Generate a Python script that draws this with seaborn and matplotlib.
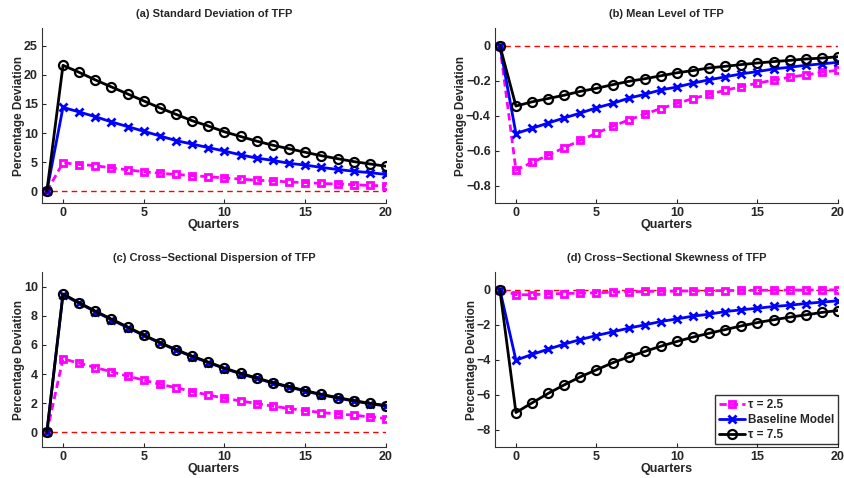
import numpy as np
import pandas as pd
import matplotlib
matplotlib.use("Agg")
import matplotlib.pyplot as plt
import seaborn as sns

quarters = list(range(-1, 21))

# (a) Standard deviation of TFP
sd_tau25 = [0, 4.9, 4.6, 4.4, 4.0, 3.7, 3.35, 3.1, 2.9, 2.7, 2.5, 2.3, 2.1, 1.9, 1.8, 1.6, 1.5, 1.35, 1.25, 1.15, 1.0, 0.95]
sd_base = [0, 14.4, 13.6, 12.8, 11.9, 11.1, 10.3, 9.5, 8.7, 8.1, 7.5, 6.9, 6.25, 5.7, 5.3, 4.8, 4.5, 4.1, 3.75, 3.45, 3.2, 2.9]
sd_tau75 = [0, 21.6, 20.4, 19.1, 17.9, 16.7, 15.5, 14.3, 13.2, 12.1, 11.2, 10.2, 9.4, 8.6, 7.9, 7.3, 6.7, 6.1, 5.6, 5.1, 4.7, 4.3]

# (b) Mean level of TFP
mean_tau25 = [0, -0.712, -0.668, -0.627, -0.584, -0.542, -0.501, -0.461, -0.426, -0.392, -0.360, -0.331, -0.303,
              -0.279, -0.256, -0.235, -0.215, -0.198, -0.181, -0.168, -0.153, -0.141]
mean_base = [0, -0.503, -0.473, -0.443, -0.414, -0.386, -0.356, -0.331, -0.301, -0.279, -0.254, -0.237, -0.215,
             -0.196, -0.179, -0.162, -0.149, -0.134, -0.124, -0.113, -0.105, -0.096]
mean_tau75 = [0, -0.346, -0.322, -0.303, -0.284, -0.262, -0.245, -0.224, -0.205, -0.190, -0.173, -0.156, -0.143,
              -0.128, -0.119, -0.109, -0.100, -0.092, -0.085, -0.077, -0.072, -0.064]

# (c) Cross-sectional dispersion of TFP
disp_tau25 = [0, 5.05, 4.75, 4.45, 4.16, 3.86, 3.59, 3.3, 3.07, 2.8, 2.57, 2.34, 2.16, 1.98, 1.8, 1.64, 1.5,
              1.36, 1.27, 1.18, 1.07, 0.95]
disp_base = [0, 9.45, 8.85, 8.28, 7.73, 7.19, 6.65, 6.13, 5.65, 5.2, 4.79, 4.38, 4.02, 3.7, 3.38, 3.11, 2.83,
             2.58, 2.36, 2.15, 1.97, 1.81]
disp_tau75 = [0, 9.5, 8.89, 8.32, 7.77, 7.23, 6.68, 6.16, 5.68, 5.23, 4.82, 4.41, 4.05, 3.73, 3.41, 3.14, 2.86,
              2.61, 2.39, 2.18, 2.0, 1.84]

# (d) Cross-sectional skewness of TFP
skew_tau25 = [0, -0.3, -0.3, -0.25, -0.23, -0.21, -0.19, -0.15, -0.13, -0.11, -0.1, -0.09, -0.08, -0.07, -0.06,
              -0.05, -0.04, -0.04, -0.03, -0.03, -0.02, -0.02]
skew_base = [0, -4.04, -3.71, -3.41, -3.12, -2.86, -2.63, -2.42, -2.21, -2.02, -1.83, -1.68, -1.52, -1.41, -1.26,
             -1.16, -1.07, -0.97, -0.9, -0.8, -0.72, -0.65]
skew_tau75 = [0, -7.03, -6.48, -5.94, -5.45, -4.99, -4.59, -4.19, -3.85, -3.54, -3.24, -2.97, -2.72, -2.5, -2.29,
              -2.08, -1.89, -1.73, -1.58, -1.45, -1.31, -1.2]

titles = ["(a) Standard Deviation of TFP", "(b) Mean Level of TFP",
          "(c) Cross\u2212Sectional Dispersion of TFP", "(d) Cross\u2212Sectional Skewness of TFP"]
series_labels = ["\u03c4 = 2.5", "Baseline Model", "\u03c4 = 7.5"]
panels = [
    (sd_tau25, sd_base, sd_tau75),
    (mean_tau25, mean_base, mean_tau75),
    (disp_tau25, disp_base, disp_tau75),
    (skew_tau25, skew_base, skew_tau75),
]
ylims = [(-2, 28), (-0.9, 0.1), (-1, 11), (-9, 1)]
yticks = [[0, 5, 10, 15, 20, 25], [-0.8, -0.6, -0.4, -0.2, 0], [0, 2, 4, 6, 8, 10], [-8, -6, -4, -2, 0]]

sns.set_style("white")
plt.rcParams["font.family"] = ["Liberation Sans", "DejaVu Sans"]
plt.rcParams["font.weight"] = "bold"
plt.rcParams["axes.labelweight"] = "bold"
plt.rcParams["axes.titleweight"] = "bold"

palette = dict(zip(series_labels, ["#ff00ff", "#0000ff", "black"]))
markers = dict(zip(series_labels, ["s", "X", "o"]))
dashes = dict(zip(series_labels, [(2.6, 1.5), "", ""]))
marker_sizes = dict(zip(series_labels, [5, 6, 6.5]))
marker_edge = dict(zip(series_labels, [2.0, 2.0, 1.6]))

fig = plt.figure(figsize=(8.45, 4.78), dpi=100)
W, H = 845, 478
boxes = [(42, 28, 386, 203), (495, 28, 838, 203), (42, 272, 386, 447), (495, 272, 838, 447)]


def style_line(line, name):
    c = palette[name]
    line.set_linewidth(2)
    line.set_markersize(marker_sizes[name])
    line.set_markeredgewidth(marker_edge[name])
    line.set_markeredgecolor(c)
    if name == "Baseline Model":
        line.set_marker("x")
    else:
        line.set_markerfacecolor("none")


for i, (vals, box) in enumerate(zip(panels, boxes)):
    l, t, r, b = box
    ax = fig.add_axes([l / W, 1 - b / H, (r - l) / W, (b - t) / H])
    ax.axhline(0, color="red", linestyle="--", linewidth=1, dashes=(4, 3), zorder=1)
    df = pd.DataFrame({
        "Quarters": quarters * 3,
        "value": list(vals[0]) + list(vals[1]) + list(vals[2]),
        "series": [n for n in series_labels for _ in quarters],
    })
    sns.lineplot(data=df, x="Quarters", y="value", hue="series", style="series",
                 hue_order=series_labels, style_order=series_labels,
                 palette=palette, markers=markers, dashes=dashes, ax=ax)
    for ln, name in zip(ax.lines[1:4], series_labels):
        style_line(ln, name)
        ln.set_zorder(3 + series_labels.index(name))
    ax.set_xlim(-1.3, 20)
    ax.set_ylim(*ylims[i])
    ax.set_xticks([0, 5, 10, 15, 20])
    ax.set_yticks(yticks[i])
    ax.set_yticklabels([f"{t:g}".replace("-", "\u2212") for t in yticks[i]])
    ax.set_xlabel("Quarters", fontsize=9, fontweight="bold", labelpad=0)
    ax.set_ylabel("Percentage Deviation", fontsize=8.5, fontweight="bold", labelpad=-1)
    ax.set_title(titles[i], fontsize=8, fontweight="bold", pad=8)
    for side in ("top", "right"):
        ax.spines[side].set_visible(False)
    for side in ("left", "bottom"):
        ax.spines[side].set_color("#333333")
        ax.spines[side].set_linewidth(0.8)
    ax.tick_params(direction="in", length=3, width=0.8, labelsize=9, pad=3,
                   left=True, bottom=True)
    for lbl in ax.get_xticklabels() + ax.get_yticklabels():
        lbl.set_fontweight("bold")
    if i == 3:
        leg = ax.legend(loc="lower right", bbox_to_anchor=(1.0, 0.015), fontsize=8.5, frameon=True,
                        fancybox=False, edgecolor="black", handlelength=2.2, handletextpad=0.3,
                        borderpad=0.3, labelspacing=0.25, borderaxespad=0.0)
        leg.get_frame().set_linewidth(1.0)
        for h, name in zip(leg.legend_handles, series_labels):
            style_line(h, name)
        for txt in leg.get_texts():
            txt.set_fontweight("bold")
    else:
        ax.get_legend().remove()

fig.savefig("out.png", dpi=100)
